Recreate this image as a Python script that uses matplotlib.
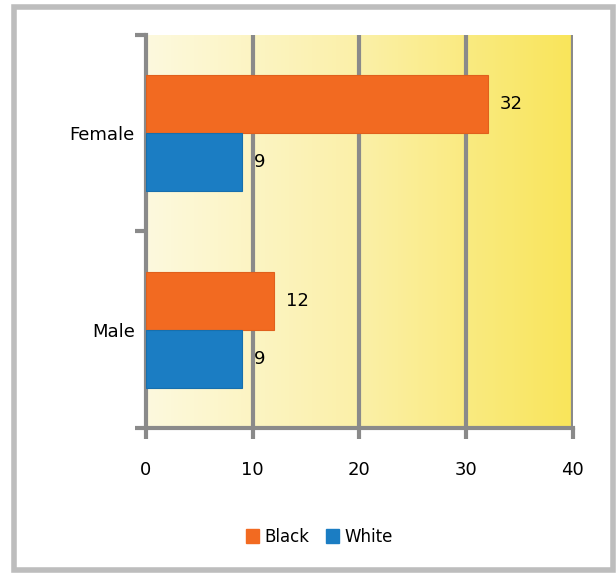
import numpy as np
import matplotlib.pyplot as plt
from matplotlib import patches
from matplotlib.colors import LinearSegmentedColormap

categories = ['Male', 'Female']
black_vals = [12, 32]
white_vals = [9, 9]
series_names = ['Black', 'White']
x_ticks = [0, 10, 20, 30, 40]

ORANGE = '#F26A21'
BLUE = '#1B7DC3'
GRID = '#8A8A8A'

fig = plt.figure(figsize=(6.16, 5.75), dpi=100)
fig.patch.set_facecolor('white')

# grey frame round the whole chart
frame = patches.Rectangle((0.022, 0.009), 0.973, 0.978, transform=fig.transFigure,
                          fill=False, ec='#BDBDBD', lw=4, zorder=0)
fig.patches.append(frame)

ax = fig.add_axes([0.237, 0.256, 0.693, 0.683])
ax.set_xlim(0, 40)
ax.set_ylim(-0.5, 1.5)

# pale to strong yellow fill behind the bars
cmap = LinearSegmentedColormap.from_list('wall', ['#FDF9DE', '#FBF0A8', '#F9E55A'])
grad = np.linspace(0, 1, 256).reshape(1, -1)
ax.imshow(grad, cmap=cmap, aspect='auto', extent=[0, 40, -0.5, 1.5], zorder=0)

y = np.arange(len(categories))
h = 0.295
b1 = ax.barh(y + h / 2, black_vals, height=h, color=ORANGE, ec='#E0601C', lw=0.8, zorder=3)
b2 = ax.barh(y - h / 2, white_vals, height=h, color=BLUE, ec='#176FAD', lw=0.8, zorder=3)

for bars, vals in ((b1, black_vals), (b2, white_vals)):
    for bar, v in zip(bars, vals):
        ax.text(v + 1.1, bar.get_y() + bar.get_height() / 2, str(v),
                va='center', ha='left', fontsize=13, color='black', zorder=4)

for sp in ['top', 'right']:
    ax.spines[sp].set_visible(False)
for sp in ['left', 'bottom']:
    ax.spines[sp].set_color(GRID)
    ax.spines[sp].set_linewidth(3)

ax.set_xticks(x_ticks)
ax.set_xticklabels([str(t) for t in x_ticks], fontsize=13)
ax.tick_params(axis='x', length=8, width=3, color=GRID, pad=16)
for t in x_ticks[1:]:
    ax.axvline(t, color=GRID, lw=3, zorder=2)

ax.set_yticks(y)
ax.set_yticklabels(categories, fontsize=13)
ax.tick_params(axis='y', length=0, pad=8)
ax.set_yticks([-0.5, 0.5, 1.5], minor=True)
ax.tick_params(axis='y', which='minor', length=8, width=3, color=GRID)

handles = [patches.Patch(color=ORANGE), patches.Patch(color=BLUE)]
fig.legend(handles, series_names, loc='center', bbox_to_anchor=(0.518, 0.066),
           ncol=2, frameon=False, fontsize=12, handlelength=0.8, handleheight=0.9,
           handletextpad=0.3, columnspacing=1.0)

fig.savefig('out.png', dpi=100)
